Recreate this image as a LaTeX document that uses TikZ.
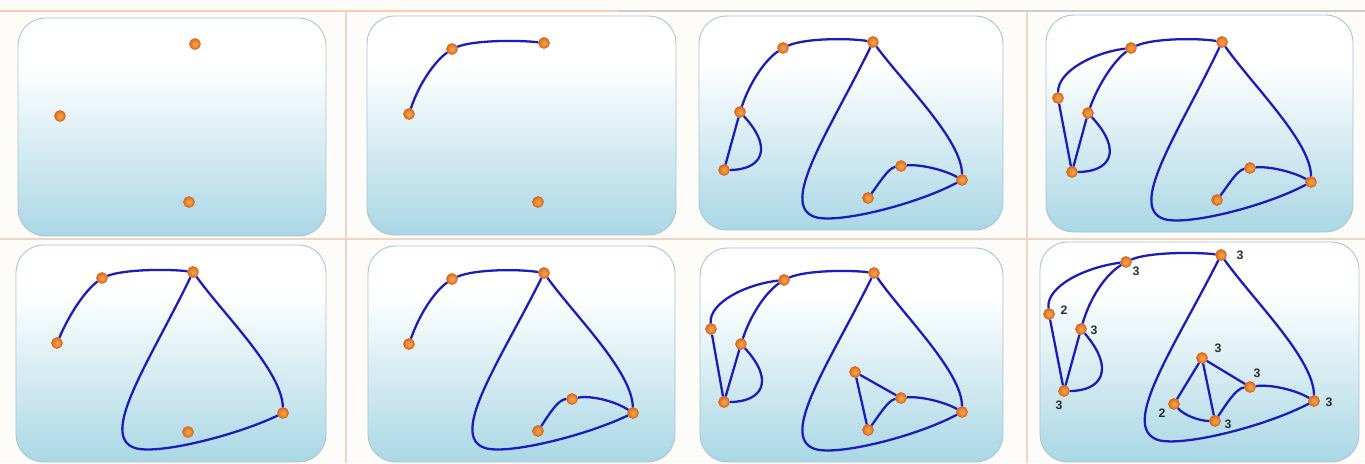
\documentclass[tikz,border=0pt]{standalone}
\usepackage{fontspec}
\setmainfont{Liberation Sans}

\definecolor{pbot}{RGB}{170,215,229}
\definecolor{pedge}{RGB}{168,198,212}
\definecolor{dotinner}{RGB}{252,170,85}
\definecolor{dotouter}{RGB}{226,108,22}
\definecolor{dotrim}{RGB}{200,95,25}
\definecolor{edgeblue}{RGB}{28,28,188}
\definecolor{sepline}{RGB}{236,214,196}
\definecolor{topline}{RGB}{248,206,172}
\definecolor{bgcream}{RGB}{254,252,249}
\definecolor{numgray}{RGB}{45,45,45}
\pgfdeclareverticalshading{panelshade}{100bp}{color(0bp)=(pbot); color(25bp)=(pbot); color(64bp)=(white); color(100bp)=(white)}

\begin{document}
\begin{tikzpicture}[x=0.02cm,y=-0.02cm,
  panel/.style={draw=pedge,line width=0.5pt,rounded corners=0.55cm,shading=panelshade},
  dot/.style={circle,inner sep=0pt,minimum size=0.22cm,shading=radial,inner color=dotinner,outer color=dotouter,draw=dotrim,line width=0.3pt},
  edge/.style={edgeblue,line width=1.3pt},
  num/.style={font=\fontsize{7}{8}\selectfont\bfseries,text=numgray,inner sep=0pt}]
\useasboundingbox (0,0) rectangle (1365,463);
\fill[bgcream] (0,0) rectangle (1365,463);
\draw[topline,line width=1.5pt] (0,11) -- (618,11);
\draw[gray!40,line width=0.6pt] (618,11) -- (1365,11);
\draw[sepline,line width=0.6pt] (346,11) -- (346,463);
\draw[sepline,line width=0.6pt] (1027,11) -- (1027,463);
\draw[sepline,line width=0.6pt] (0,239) -- (1365,239);

\shadedraw[panel] (18,18) rectangle (326,236);
\shadedraw[panel] (367,16) rectangle (676,235);
\shadedraw[panel] (699,16) rectangle (1003,230);
\shadedraw[panel] (1046,15) rectangle (1353,232);
\shadedraw[panel] (16,245) rectangle (326,462);
\shadedraw[panel] (368,246) rectangle (675,462);
\shadedraw[panel] (700,248) rectangle (1003,462);
\shadedraw[panel] (1040,242) rectangle (1359,462);

\node[dot] (a1) at (195,44) {};
\node[dot] (c1) at (60,116) {};
\node[dot] (g1) at (189,202) {};

\node[dot] (c2) at (409,114) {};
\node[dot] (a2) at (452,49) {};
\node[dot] (b2) at (544,43) {};
\node[dot] (g2) at (538,202) {};
\draw[edge] (c2) .. controls (419,84) and (434,62) .. (a2);
\draw[edge] (a2) .. controls (474,40) and (519,40) .. (b2);

\node[dot] (a3) at (783,48) {};
\node[dot] (b3) at (873,42) {};
\node[dot] (c3) at (740,112) {};
\node[dot] (d3) at (724,170) {};
\node[dot] (e3) at (901,166) {};
\node[dot] (f3) at (962,180) {};
\node[dot] (g3) at (868,198) {};
\draw[edge] (c3) .. controls (750,82) and (765,60) .. (a3);
\draw[edge] (a3) .. controls (805,38) and (850,38) .. (b3);
\draw[edge] (b3) .. controls (905,85) and (962,140) .. (f3);
\draw[edge] (b3) .. controls (830,130) and (778,205) .. (815,217) .. controls (837,224) and (915,205) .. (f3);
\draw[edge] (c3) -- (d3);
\draw[edge] (d3) .. controls (760,170) and (775,150) .. (c3);
\draw[edge] (e3) .. controls (920,164) and (945,170) .. (f3);
\draw[edge] (g3) .. controls (878,185) and (888,168) .. (e3);

\node[dot] (a4) at (1131,48) {};
\node[dot] (b4) at (1222,42) {};
\node[dot] (h4) at (1058,98) {};
\node[dot] (c4) at (1088,113) {};
\node[dot] (d4) at (1072,172) {};
\node[dot] (e4) at (1250,168) {};
\node[dot] (f4) at (1311,182) {};
\node[dot] (g4) at (1217,200) {};
\draw[edge] (a4) .. controls (1096,52) and (1058,70) .. (h4);
\draw[edge] (h4) -- (d4);
\draw[edge] (c4) .. controls (1099,83) and (1114,61) .. (a4);
\draw[edge] (a4) .. controls (1154,38) and (1199,38) .. (b4);
\draw[edge] (b4) .. controls (1254,87) and (1311,142) .. (f4);
\draw[edge] (b4) .. controls (1179,132) and (1127,207) .. (1164,219) .. controls (1186,226) and (1264,207) .. (f4);
\draw[edge] (c4) -- (d4);
\draw[edge] (d4) .. controls (1109,172) and (1124,152) .. (c4);
\draw[edge] (e4) .. controls (1269,166) and (1294,172) .. (f4);
\draw[edge] (g4) .. controls (1227,187) and (1237,170) .. (e4);

\node[dot] (c5) at (57,343) {};
\node[dot] (a5) at (102,278) {};
\node[dot] (b5) at (193,272) {};
\node[dot] (f5) at (283,413) {};
\node[dot] (g5) at (188,432) {};
\draw[edge] (c5) .. controls (70,313) and (85,291) .. (a5);
\draw[edge] (a5) .. controls (125,269) and (170,269) .. (b5);
\draw[edge] (b5) .. controls (225,316) and (282,371) .. (f5);
\draw[edge] (b5) .. controls (150,361) and (98,436) .. (135,448) .. controls (157,455) and (235,436) .. (f5);

\node[dot] (c6) at (409,344) {};
\node[dot] (a6) at (452,279) {};
\node[dot] (b6) at (544,273) {};
\node[dot] (f6) at (633,413) {};
\node[dot] (e6) at (572,399) {};
\node[dot] (g6) at (538,431) {};
\draw[edge] (c6) .. controls (420,313) and (435,291) .. (a6);
\draw[edge] (a6) .. controls (475,269) and (520,269) .. (b6);
\draw[edge] (b6) .. controls (575,316) and (632,371) .. (f6);
\draw[edge] (b6) .. controls (500,361) and (448,436) .. (485,448) .. controls (507,455) and (585,436) .. (f6);
\draw[edge] (e6) .. controls (590,395) and (615,401) .. (f6);
\draw[edge] (g6) .. controls (548,416) and (558,399) .. (e6);

\node[dot] (a7) at (784,280) {};
\node[dot] (b7) at (874,273) {};
\node[dot] (h7) at (711,329) {};
\node[dot] (c7) at (741,344) {};
\node[dot] (d7) at (724,402) {};
\node[dot] (i7) at (855,372) {};
\node[dot] (e7) at (901,398) {};
\node[dot] (f7) at (962,412) {};
\node[dot] (g7) at (868,430) {};
\draw[edge] (a7) .. controls (747,284) and (709,302) .. (h7);
\draw[edge] (h7) -- (d7);
\draw[edge] (c7) .. controls (751,314) and (766,292) .. (a7);
\draw[edge] (a7) .. controls (806,270) and (851,270) .. (b7);
\draw[edge] (b7) .. controls (905,317) and (962,372) .. (f7);
\draw[edge] (b7) .. controls (830,362) and (778,437) .. (815,449) .. controls (837,456) and (915,437) .. (f7);
\draw[edge] (c7) -- (d7);
\draw[edge] (d7) .. controls (761,402) and (776,382) .. (c7);
\draw[edge] (e7) .. controls (920,396) and (945,402) .. (f7);
\draw[edge] (g7) .. controls (878,417) and (888,400) .. (e7);
\draw[edge] (i7) -- (e7);
\draw[edge] (i7) -- (g7);

\node[dot] (a8) at (1126,262) {};
\node[dot] (b8) at (1221,255) {};
\node[dot] (h8) at (1049,314) {};
\node[dot] (c8) at (1081,329) {};
\node[dot] (d8) at (1064,391) {};
\node[dot] (i8) at (1202,358) {};
\node[dot] (e8) at (1250,387) {};
\node[dot] (f8) at (1314,401) {};
\node[dot] (g8) at (1215,421) {};
\node[dot] (j8) at (1174,404) {};
\draw[edge] (a8) .. controls (1086,267) and (1046,286) .. (h8);
\draw[edge] (h8) -- (d8);
\draw[edge] (c8) .. controls (1090,298) and (1105,275) .. (a8);
\draw[edge] (a8) .. controls (1148,252) and (1196,252) .. (b8);
\draw[edge] (b8) .. controls (1254,301) and (1314,359) .. (f8);
\draw[edge] (b8) .. controls (1174,348) and (1119,427) .. (1158,440) .. controls (1182,447) and (1264,427) .. (f8);
\draw[edge] (c8) -- (d8);
\draw[edge] (d8) .. controls (1101,391) and (1116,370) .. (c8);
\draw[edge] (e8) .. controls (1270,384) and (1296,390) .. (f8);
\draw[edge] (g8) .. controls (1225,406) and (1236,388) .. (e8);
\draw[edge] (i8) -- (e8);
\draw[edge] (i8) -- (g8);
\draw[edge] (i8) -- (j8);
\draw[edge] (j8) .. controls (1185,416) and (1200,421) .. (g8);

\node[num] (na8) at (1136,271) {3};
\node[num] (nb8) at (1240,255) {3};
\node[num] (nh8) at (1064,310) {2};
\node[num] (nc8) at (1094,330) {3};
\node[num] (nd8) at (1059,405) {3};
\node[num] (ni8) at (1218,348) {3};
\node[num] (ne8) at (1257,373) {3};
\node[num] (nf8) at (1329,402) {3};
\node[num] (ng8) at (1228,424) {3};
\node[num] (nj8) at (1162,413) {2};
\end{tikzpicture}
\end{document}
